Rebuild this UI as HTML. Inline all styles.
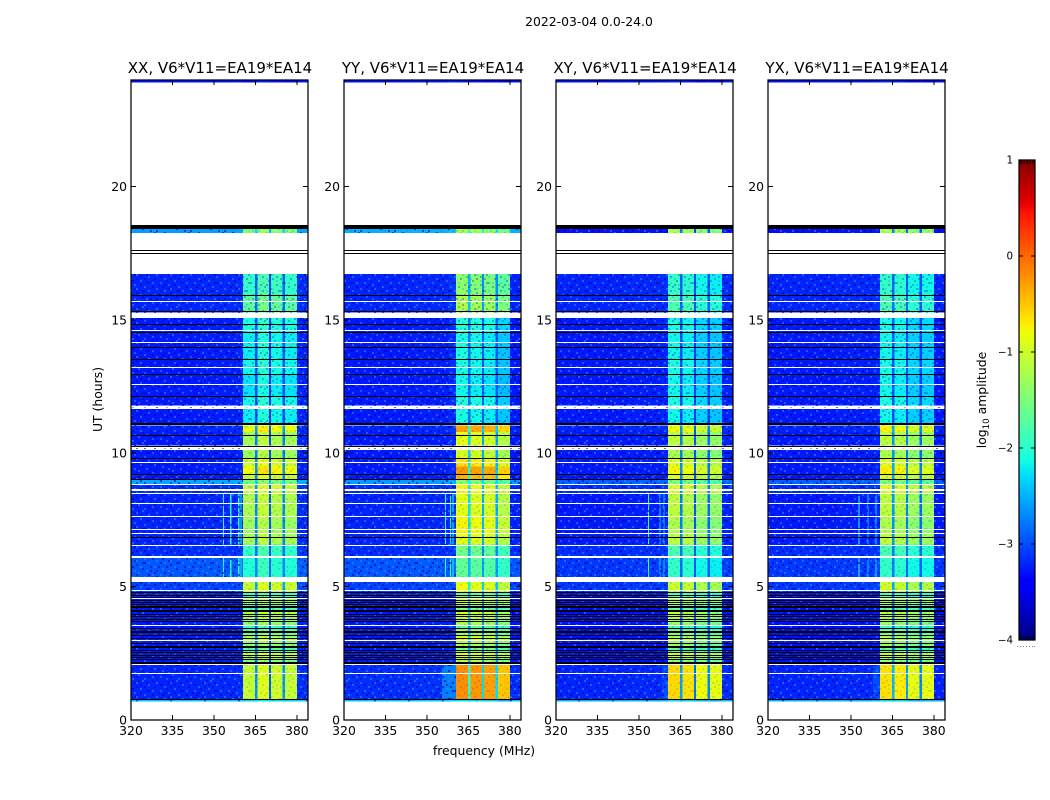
<!DOCTYPE html>
<html lang="en">
<head>
<meta charset="utf-8">
<title>2022-03-04 amplitude waterfall</title>
<style>
  html, body { margin: 0; padding: 0; background: #fff; }
  svg { display: block; }
  text { font-family: "DejaVu Sans", "Liberation Sans", sans-serif; fill: #000; }
</style>
</head>
<body>
<svg id="figure" xmlns="http://www.w3.org/2000/svg" width="1050" height="800" viewBox="0 0 1050 800" shape-rendering="crispEdges">
  <defs>
    <pattern id="grain" width="34" height="34" patternUnits="userSpaceOnUse">
      <g fill="#2f86ff">
        <rect x="0" y="2" width="2" height="2"/><rect x="6" y="0" width="2" height="2"/><rect x="12" y="4" width="2" height="2"/>
        <rect x="20" y="2" width="2" height="2"/><rect x="28" y="6" width="2" height="2"/><rect x="4" y="8" width="2" height="2"/>
        <rect x="16" y="10" width="2" height="2"/><rect x="24" y="10" width="2" height="2"/><rect x="32" y="12" width="2" height="2"/>
        <rect x="8" y="14" width="2" height="2"/><rect x="0" y="16" width="2" height="2"/><rect x="20" y="16" width="2" height="2"/>
        <rect x="12" y="18" width="2" height="2"/><rect x="28" y="18" width="2" height="2"/><rect x="4" y="22" width="2" height="2"/>
        <rect x="18" y="22" width="2" height="2"/><rect x="26" y="24" width="2" height="2"/><rect x="10" y="26" width="2" height="2"/>
        <rect x="32" y="26" width="2" height="2"/><rect x="2" y="28" width="2" height="2"/><rect x="16" y="30" width="2" height="2"/>
        <rect x="24" y="30" width="2" height="2"/><rect x="8" y="32" width="2" height="2"/><rect x="30" y="32" width="2" height="2"/>
      </g>
      <g fill="#0000b0">
        <rect x="2" y="0" width="2" height="2"/><rect x="10" y="2" width="2" height="2"/><rect x="16" y="0" width="2" height="2"/>
        <rect x="24" y="4" width="2" height="2"/><rect x="32" y="2" width="2" height="2"/><rect x="0" y="6" width="2" height="2"/>
        <rect x="8" y="6" width="2" height="2"/><rect x="18" y="6" width="2" height="2"/><rect x="12" y="10" width="2" height="2"/>
        <rect x="28" y="12" width="2" height="2"/><rect x="4" y="12" width="2" height="2"/><rect x="22" y="12" width="2" height="2"/>
        <rect x="16" y="14" width="2" height="2"/><rect x="32" y="16" width="2" height="2"/><rect x="8" y="18" width="2" height="2"/>
        <rect x="24" y="18" width="2" height="2"/><rect x="0" y="20" width="2" height="2"/><rect x="14" y="22" width="2" height="2"/>
        <rect x="30" y="22" width="2" height="2"/><rect x="6" y="24" width="2" height="2"/><rect x="20" y="26" width="2" height="2"/>
        <rect x="0" y="30" width="2" height="2"/><rect x="12" y="30" width="2" height="2"/><rect x="28" y="28" width="2" height="2"/>
        <rect x="20" y="32" width="2" height="2"/><rect x="4" y="4" width="2" height="2"/><rect x="26" y="14" width="2" height="2"/>
        <rect x="14" y="26" width="2" height="2"/><rect x="22" y="22" width="2" height="2"/><rect x="6" y="18" width="2" height="2"/>
        <rect x="30" y="8" width="2" height="2"/><rect x="18" y="28" width="2" height="2"/><rect x="10" y="10" width="2" height="2"/>
      </g>
    </pattern>
  </defs>
  <text x="589" y="26" font-size="12.4" text-anchor="middle">2022-03-04 0.0-24.0</text>
  <g id="panels"></g>
  <text x="0" y="0" font-size="12.4" text-anchor="middle" transform="translate(102 399.5) rotate(-90)">UT (hours)</text>
  <text x="484" y="755" font-size="12.4" text-anchor="middle">frequency (MHz)</text>
  <g id="colorbar"></g>
  <text x="0" y="0" font-size="12.4" text-anchor="middle" transform="translate(986 400) rotate(-90)">log<tspan font-size="8.7" dy="3">10</tspan><tspan dy="-3"> amplitude</tspan></text>
</svg>
<script>
// ---- chart data (hours, MHz, log10 amplitude) ----
const panelTitles = ["XX, V6*V11=EA19*EA14", "YY, V6*V11=EA19*EA14", "XY, V6*V11=EA19*EA14", "YX, V6*V11=EA19*EA14"];
const freqTicks = [320, 335, 350, 365, 380];
const hourTicks = [0, 5, 10, 15, 20];
const colorTicks = [-4, -3, -2, -1, 0, 1];

const blockStartHours = [24.00,18.40,16.72,15.92,15.10,14.55,13.52,12.96,12.13,11.68,11.03,10.80,10.16,9.82,9.50,9.22,9.02,8.83,8.50,7.63,7.00,6.57,6.07,5.17,4.80,4.56,4.31,4.08,3.82,3.55,3.37,3.11,3.00,2.74,2.51,2.32,2.09,0.79];
const blockEndHours   = [23.90,18.26,15.92,15.27,14.55,13.52,12.96,12.13,11.78,11.12,10.80,10.28,9.82,9.50,9.22,9.02,8.83,8.50,7.63,7.00,6.57,6.07,5.35,4.80,4.56,4.31,4.08,3.82,3.55,3.37,3.11,3.00,2.74,2.51,2.32,2.09,0.79,0.70];

const bandXX = [-3.3,-1.4,-1.9,-1.65,-2.05,-2.15,-2.1,-2.2,-2.1,-2.15,-0.8,-1.2,-1.25,-0.95,-0.75,-1.0,-1.5,-1.0,-1.15,-1.25,-1.2,-1.9,-2.0,-1.0,-1.8,-1.2,-1.7,-1.15,-1.35,-1.9,-1.5,-1.0,-1.35,-1.7,-1.05,-1.4,-1.0,-2.3];
const bandYY = [-3.3,-1.3,-1.45,-1.25,-2.05,-2.15,-2.15,-2.2,-2.1,-2.15,-0.35,-0.9,-1.0,-0.7,-0.3,-0.45,-1.5,-0.8,-0.9,-0.8,-0.9,-1.6,-1.7,-0.85,-1.6,-1.0,-1.5,-1.0,-1.2,-1.7,-1.3,-0.8,-1.2,-1.5,-0.9,-1.2,-0.25,-2.3];
const bandXY = [-3.3,-1.3,-2.05,-1.9,-2.2,-2.25,-2.2,-2.25,-2.2,-2.25,-0.9,-1.2,-1.3,-1.0,-0.85,-1.05,-1.6,-1.0,-1.2,-1.3,-1.2,-1.9,-2.05,-1.1,-1.85,-1.25,-1.75,-1.2,-1.4,-1.95,-1.55,-1.05,-1.4,-1.75,-1.1,-1.45,-0.7,-2.4];
const bandYX = [-3.3,-1.3,-2.05,-1.9,-2.2,-2.25,-2.2,-2.25,-2.2,-2.25,-0.85,-1.2,-1.3,-1.0,-0.8,-1.05,-1.6,-1.0,-1.2,-1.3,-1.2,-1.9,-2.05,-1.1,-1.85,-1.25,-1.75,-1.2,-1.4,-1.95,-1.55,-1.05,-1.4,-1.75,-1.1,-1.45,-0.75,-2.4];

const backgroundXX = [-3.3,-2.6,-3.2,-3.2,-3.25,-3.25,-3.25,-3.25,-3.25,-3.25,-3.2,-3.25,-3.25,-3.25,-3.25,-3.25,-2.55,-3.15,-3.2,-3.2,-3.2,-3.15,-2.95,-3.05,-3.25,-3.25,-3.25,-3.25,-3.25,-3.25,-3.25,-3.25,-3.25,-3.25,-3.25,-3.25,-3.2,-2.4];
const backgroundYY = [-3.3,-2.5,-3.2,-3.2,-3.25,-3.25,-3.25,-3.25,-3.25,-3.25,-3.2,-3.25,-3.25,-3.25,-3.25,-3.25,-2.6,-3.15,-3.2,-3.2,-3.2,-3.15,-2.95,-3.05,-3.25,-3.25,-3.25,-3.25,-3.25,-3.25,-3.25,-3.25,-3.25,-3.25,-3.25,-3.25,-3.15,-2.4];
const backgroundXY = [-3.3,-3.3,-3.2,-3.2,-3.25,-3.25,-3.25,-3.25,-3.25,-3.25,-3.2,-3.25,-3.25,-3.25,-3.25,-3.25,-2.9,-3.15,-3.25,-3.25,-3.25,-3.15,-3.1,-3.1,-3.3,-3.3,-3.3,-3.3,-3.3,-3.3,-3.3,-3.3,-3.3,-3.3,-3.3,-3.3,-3.2,-2.5];
const backgroundYX = [-3.3,-3.3,-3.2,-3.2,-3.25,-3.25,-3.25,-3.25,-3.25,-3.25,-3.2,-3.25,-3.25,-3.25,-3.25,-3.25,-2.9,-3.15,-3.25,-3.25,-3.25,-3.15,-3.1,-3.1,-3.3,-3.3,-3.3,-3.3,-3.3,-3.3,-3.3,-3.3,-3.3,-3.3,-3.3,-3.3,-3.2,-2.5];

// frequency segments: three background spans, four sub-bands with gaps, and the upper edge
const segmentEdges = [320,345,358,360.5,364.9,365.7,369.9,370.7,374.9,375.7,380,384];
const segmentKinds = ["bg","bg","bg","band","gap","band","gap","band","gap","band","bg"];
// background and band entries add to the level; gap entries weight between background and band
const segmentAdjustXX = [0,0.02,0.05,-0.05,0.25,0.1,0.12,0,0.25,-0.05,0.05];
const segmentAdjustYY = [0,0.02,0.1,0.05,0.4,0,0.3,-0.05,0.3,-0.25,0];
const segmentAdjustXY = [0,0.02,0.05,0.1,0.25,0.05,0.15,-0.1,0.2,-0.15,0.05];
const segmentAdjustYX = [0,0.02,0.05,0.1,0.3,0.05,0.25,-0.1,0.2,-0.1,0];

// narrow RFI lines and patches: panel index, start MHz, end MHz, start h, end h, value
const featurePanels = [0,0,0,0,0,0,0,0, 1,1,1,1,1,1, 2,2,2,2,2,2, 3,3,3,3,3,3, 1,2,3];
const featureStartFreq = [353.3,355.9,358.8,359.6,353.3,355.9,358.8,359.6, 356.6,358.3,359.2,356.6,358.3,359.2, 353.3,357.5,358.9,353.3,357.5,358.9, 352.8,356.0,358.9,352.8,356.0,358.9, 355.5,358.5,358.0];
const featureEndFreq   = [353.7,356.3,359.2,360.0,353.7,356.3,359.2,360.0, 357.0,358.7,359.6,357.0,358.7,359.6, 353.7,357.9,359.3,353.7,357.9,359.3, 353.2,356.4,359.3,353.2,356.4,359.3, 360.5,360.5,360.5];
const featureStartHour = [8.50,8.50,8.50,8.50,6.07,6.07,6.07,6.07, 8.50,8.50,8.50,6.07,6.07,6.07, 8.50,8.50,8.50,6.07,6.07,6.07, 8.50,8.50,8.50,6.07,6.07,6.07, 2.05,2.05,2.05];
const featureEndHour   = [6.57,6.57,6.57,6.57,5.35,5.35,5.35,5.35, 6.57,6.57,6.57,5.35,5.35,5.35, 6.57,6.57,6.57,5.35,5.35,5.35, 6.57,6.57,6.57,5.35,5.35,5.35, 0.8,0.8,0.8];
const featureValues    = [-2.0,-2.1,-2.0,-2.2,-2.0,-2.0,-2.0,-2.2, -2.1,-2.2,-2.1,-2.0,-2.0,-2.0, -1.9,-2.3,-2.4,-1.9,-2.3,-2.4, -2.0,-2.4,-2.3,-1.9,-2.4,-2.2, -2.75,-3.0,-3.0];

// flagged rows
const whiteStartHours = [15.69,15.27,14.61,14.16,13.22,12.58,11.78,11.68,10.25,10.16,9.66,8.83,8.66,8.50,8.12,7.63,7.15,7.00,6.57,6.15,5.35,4.86,4.56,3.55,3.00,2.09,1.75];
const whiteEndHours   = [15.65,15.10,14.57,14.12,13.18,12.54,11.74,11.64,10.21,10.12,9.62,8.79,8.58,8.46,8.08,7.59,7.11,6.96,6.53,6.07,5.17,4.82,4.52,3.51,2.96,2.05,1.71];
const blackRowHours = [17.63,17.49,15.92,15.34,14.83,14.55,13.99,13.52,12.96,12.13,10.68,10.28,9.82,9.22,9.02,6.85,4.80,4.70,4.61,4.50,4.42,4.35,4.29,4.22,4.14,4.07,3.97,3.88,3.80,3.71,3.45,3.35,3.30,3.17,3.07,2.89,2.79,2.72,2.62,2.55,2.45,2.36,2.29,2.19,2.12,0.79];
const blackBandStart = [18.55,11.12];
const blackBandEnd   = [18.40,11.03];

// ---- layout ----
const panelLefts = [131, 344, 556, 768];
const panelWidth = 177;
const plotTop = 80;
const plotBottom = 720;
const pxPerMHz = 2.763;
const pxPerHour = 26.68;
const bandSeries = [bandXX, bandYY, bandXY, bandYX];
const backgroundSeries = [backgroundXX, backgroundYY, backgroundXY, backgroundYX];
const adjustSeries = [segmentAdjustXX, segmentAdjustYY, segmentAdjustXY, segmentAdjustYX];

const NS = "http://www.w3.org/2000/svg";
function xAxis(panel, mhz) { return panelLefts[panel] + (mhz - 320) * pxPerMHz; }
function yAxis(hour) { return plotBottom - hour * pxPerHour; }

function interp(t, pts) {
  for (let i = 1; i < pts.length; i++) {
    if (t <= pts[i][0]) {
      const a = pts[i - 1], b = pts[i];
      return a[1] + (b[1] - a[1]) * (t - a[0]) / (b[0] - a[0]);
    }
  }
  return pts[pts.length - 1][1];
}
function jet(value) {
  const t = Math.max(0, Math.min(1, (value + 4) / 5));
  const r = interp(t, [[0,0],[0.35,0],[0.66,1],[0.89,1],[1,0.5]]);
  const g = interp(t, [[0,0],[0.125,0],[0.375,1],[0.64,1],[0.91,0],[1,0]]);
  const b = interp(t, [[0,0.5],[0.11,1],[0.34,1],[0.65,0],[1,0]]);
  return "rgb(" + Math.round(r * 255) + "," + Math.round(g * 255) + "," + Math.round(b * 255) + ")";
}
function make(tag, attrs, parent) {
  const el = document.createElementNS(NS, tag);
  for (const k in attrs) el.setAttribute(k, attrs[k]);
  parent.appendChild(el);
  return el;
}
function cellValue(panel, block, seg) {
  const kind = segmentKinds[seg];
  const adj = adjustSeries[panel][seg];
  const bg = backgroundSeries[panel][block];
  const band = bandSeries[panel][block];
  if (kind === "bg") return bg + adj;
  if (kind === "band") return band + adj;
  return bg + adj * (band - bg);
}

const panelsRoot = document.getElementById("panels");
panelTitles.forEach(function (title, p) {
  const group = make("g", {}, panelsRoot);
  
  

  // heatmap cells
  blockStartHours.forEach(function (startHour, b) {
    segmentKinds.forEach(function (kind, s) {
      const x0 = xAxis(p, segmentEdges[s]);
      const x1 = xAxis(p, segmentEdges[s + 1]);
      const y0 = yAxis(startHour);
      const y1 = yAxis(blockEndHours[b]);
      const cell = make("rect", { x: x0, y: y0, width: x1 - x0, height: y1 - y0, fill: jet(cellValue(p, b, s)) }, group);
      
      
    });
  });

  // narrow RFI features
  featurePanels.forEach(function (fp, i) {
    if (fp !== p) return;
    const x0 = xAxis(p, featureStartFreq[i]);
    const x1 = xAxis(p, featureEndFreq[i]);
    const y0 = yAxis(featureStartHour[i]);
    const y1 = yAxis(featureEndHour[i]);
    const feature = make("rect", { x: x0, y: y0, width: x1 - x0, height: y1 - y0, fill: jet(featureValues[i]) }, group);
    
    
  });

  // grain texture over the observed time ranges: stronger where the signal is weak
  [[18.40, 18.26, 0.15], [16.72, 11.12, 0.3], [11.12, 0.70, 0.12]].forEach(function (range) {
    [[320, 360.5, 0.6], [360.5, 380, range[2]], [380, 384, 0.6]].forEach(function (span) {
      const x0 = xAxis(p, span[0]);
      const x1 = xAxis(p, span[1]);
      const grain = make("rect", { x: x0, y: yAxis(range[0]), width: x1 - x0, height: yAxis(range[1]) - yAxis(range[0]), fill: "url(#grain)", opacity: span[2] }, group);
      
      
    });
  });

  // flagged rows
  whiteStartHours.forEach(function (h, i) {
    const row = make("rect", { x: panelLefts[p], y: Math.round(yAxis(h)), width: panelWidth, height: Math.max(1, Math.round(yAxis(whiteEndHours[i]) - yAxis(h))), fill: "#fff" }, group);
    
    
  });
  blackRowHours.forEach(function (h) {
    const row = make("rect", { x: panelLefts[p], y: Math.round(yAxis(h)), width: panelWidth, height: 1, fill: "#000" }, group);
    
    
  });
  blackBandStart.forEach(function (h, i) {
    const band = make("rect", { x: panelLefts[p], y: Math.round(yAxis(h)), width: panelWidth, height: Math.round(yAxis(blackBandEnd[i]) - yAxis(h)), fill: "#000" }, group);
    
    
  });

  // frame
  const frame = make("rect", { x: panelLefts[p], y: plotTop, width: panelWidth, height: plotBottom - plotTop, fill: "none", stroke: "#000", "stroke-width": 1.25, "shape-rendering": "geometricPrecision" }, group);
  
  

  // x ticks
  freqTicks.forEach(function (f) {
    const x = xAxis(p, f);
    const bottomTick = make("line", { x1: x, x2: x, y1: plotBottom, y2: plotBottom - 5, stroke: "#000", "stroke-width": 1 }, group);
    
    
    const topTick = make("line", { x1: x, x2: x, y1: plotTop, y2: plotTop + 5, stroke: "#000", "stroke-width": 1 }, group);
    
    
    const label = make("text", { x: x, y: 735, "font-size": 12.4, "text-anchor": "middle" }, group);
    
    
    label.textContent = String(f);
  });

  // y ticks
  hourTicks.forEach(function (h) {
    const y = yAxis(h);
    const leftTick = make("line", { x1: panelLefts[p], x2: panelLefts[p] + 5, y1: y, y2: y, stroke: "#000", "stroke-width": 1 }, group);
    
    
    const rightTick = make("line", { x1: panelLefts[p] + panelWidth, x2: panelLefts[p] + panelWidth - 5, y1: y, y2: y, stroke: "#000", "stroke-width": 1 }, group);
    
    
    const label = make("text", { x: panelLefts[p] - 4, y: y + 4.5, "font-size": 12.4, "text-anchor": "end" }, group);
    
    
    label.textContent = String(h);
  });

  // title
  const titleText = make("text", { x: panelLefts[p] + panelWidth / 2 + 0.5, y: 73, "font-size": 15, "text-anchor": "middle" }, group);
  
  
  titleText.textContent = title;
});

// ---- colorbar ----
const cbLeft = 1019, cbWidth = 16, cbTop = 160, cbBottom = 640;
const cbRoot = document.getElementById("colorbar");
function cbY(value) { return cbBottom - (value + 4) / 5 * (cbBottom - cbTop); }
for (let py = cbTop; py < cbBottom; py += 2) {
  const v = -4 + (cbBottom - py - 1) / (cbBottom - cbTop) * 5;
  const strip = make("rect", { x: cbLeft, y: py, width: cbWidth, height: 2, fill: jet(v) }, cbRoot);
  
  
}
const cbFrame = make("rect", { x: cbLeft, y: cbTop, width: cbWidth, height: cbBottom - cbTop, fill: "none", stroke: "#000", "stroke-width": 1.25, "shape-rendering": "geometricPrecision" }, cbRoot);


colorTicks.forEach(function (v) {
  const y = cbY(v);
  const left = make("line", { x1: cbLeft, x2: cbLeft + 4, y1: y, y2: y, stroke: "#000" }, cbRoot);
  
  
  const right = make("line", { x1: cbLeft + cbWidth, x2: cbLeft + cbWidth - 4, y1: y, y2: y, stroke: "#000" }, cbRoot);
  
  
  const label = make("text", { x: 1013, y: y + 3.5, "font-size": 10.3, "text-anchor": "end" }, cbRoot);
  
  
  label.textContent = String(v).replace("-", "\u2212");
});
[2, 5, 8, 11, 14].forEach(function (dx) {
  const topMark = make("line", { x1: cbLeft + dx, x2: cbLeft + dx, y1: cbTop, y2: cbTop + 4, stroke: "#000" }, cbRoot);
  
  
  const bottomMark = make("line", { x1: cbLeft + dx, x2: cbLeft + dx, y1: cbBottom, y2: cbBottom - 4, stroke: "#000" }, cbRoot);
  
  
});
[1017, 1020, 1023, 1026, 1029, 1032, 1034].forEach(function (x) {
  const dot = make("rect", { x: x, y: 646, width: 1, height: 1, fill: "#888" }, cbRoot);
  
  
});
</script>
</body>
</html>
